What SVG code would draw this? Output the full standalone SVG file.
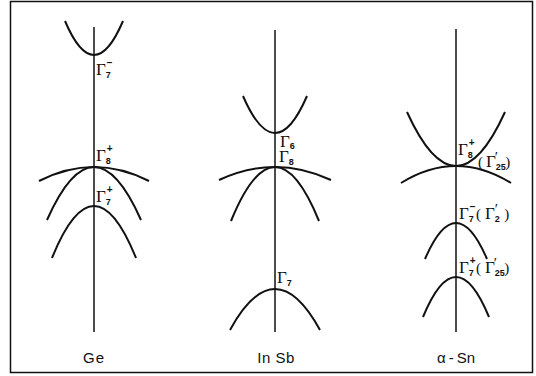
<svg xmlns="http://www.w3.org/2000/svg" width="536" height="376" viewBox="0 0 536 376">
<style>
.frame{fill:none;stroke:#111;stroke-width:1.5}
.axis{fill:none;stroke:#111;stroke-width:1.5}
.band{fill:none;stroke:#111;stroke-width:2}
.g{font-family:"Liberation Serif","Times New Roman",serif;font-size:17px;fill:#111}
.sb{font-family:"Liberation Sans",Arial,sans-serif;font-size:9px;font-weight:bold}
.sp{font-family:"Liberation Sans",Arial,sans-serif;font-size:10px;font-weight:bold}
.pp{font-family:"Liberation Serif","Times New Roman",serif;font-size:15px}
.name{font-family:"Liberation Sans",Arial,sans-serif;font-size:15px;fill:#111;text-anchor:middle}
</style>
<rect class="frame" x="10.5" y="1.5" width="522" height="371"/>
<g id="connectors">
<path class="axis" d="M94,27V332"/>
<path class="axis" d="M275,30V332"/>
<path class="axis" d="M456,29V332"/>
</g>
<g id="Ge">
<path class="band" d="M65,21Q94,89 123,21"/>
<path class="band" d="M39,181Q94,153 149,181"/>
<path class="band" d="M47,220Q94,114 141,220"/>
<path class="band" d="M52,258Q94,154 136,258"/>
<text class="g" x="96" y="75">Γ<tspan class="sb" dy="3">7</tspan><tspan class="sp" dx="-4" dy="-12">−</tspan></text>
<text class="g" x="96" y="161">Γ<tspan class="sb" dy="3">8</tspan><tspan class="sp" dx="-4" dy="-12">+</tspan></text>
<text class="g" x="96" y="202">Γ<tspan class="sb" dy="3">7</tspan><tspan class="sp" dx="-4" dy="-12">+</tspan></text>
<text class="name" x="94" y="363" letter-spacing="1">Ge</text>
</g>
<g id="InSb">
<path class="band" d="M243,96Q275,170 307,96"/>
<path class="band" d="M219,180Q275,154 331,180"/>
<path class="band" d="M231,221Q275,113 319,221"/>
<path class="band" d="M230,330Q275,248 320,330"/>
<text class="g" x="280" y="147">Γ<tspan class="sb" dy="2">6</tspan></text>
<text class="g" x="279" y="162">Γ<tspan class="sb" dy="3">8</tspan></text>
<text class="g" x="277" y="283">Γ<tspan class="sb" dy="3">7</tspan></text>
<text class="name" x="276" y="363" letter-spacing="0.5">In Sb</text>
</g>
<g id="aSn">
<path class="band" d="M407,112Q456,220 505,112"/>
<path class="band" d="M401,183Q456,149 511,183"/>
<path class="band" d="M425,259Q456,187 487,259"/>
<path class="band" d="M423,317Q456,237 489,317"/>
<text class="g" x="458" y="155">Γ<tspan class="sb" dy="3">8</tspan><tspan class="sp" dx="-4" dy="-12">+</tspan></text>
<text class="g" x="478" y="167"><tspan class="pp">(</tspan><tspan dx="3">Γ</tspan><tspan class="sb" dy="3">25</tspan><tspan class="pp" dx="-11" dy="-8">′</tspan><tspan class="pp" dx="7" dy="5">)</tspan></text>
<text class="g" x="459" y="219">Γ<tspan class="sb" dy="3">7</tspan><tspan class="sp" dx="-4" dy="-12">−</tspan></text>
<text class="g" x="476" y="219"><tspan class="pp">(</tspan><tspan dx="4">Γ</tspan><tspan class="sb" dy="3">2</tspan><tspan class="pp" dx="-5" dy="-8">′</tspan><tspan class="pp" dx="6" dy="5">)</tspan></text>
<text class="g" x="459" y="273">Γ<tspan class="sb" dy="3">7</tspan><tspan class="sp" dx="-4" dy="-12">+</tspan></text>
<text class="g" x="476" y="273"><tspan class="pp">(</tspan><tspan dx="4">Γ</tspan><tspan class="sb" dy="3">25</tspan><tspan class="pp" dx="-11" dy="-8">′</tspan><tspan class="pp" dx="7" dy="5">)</tspan></text>
<text class="name" x="456" y="363">α<tspan dx="3">-</tspan><tspan dx="3">Sn</tspan></text>
</g>
</svg>
